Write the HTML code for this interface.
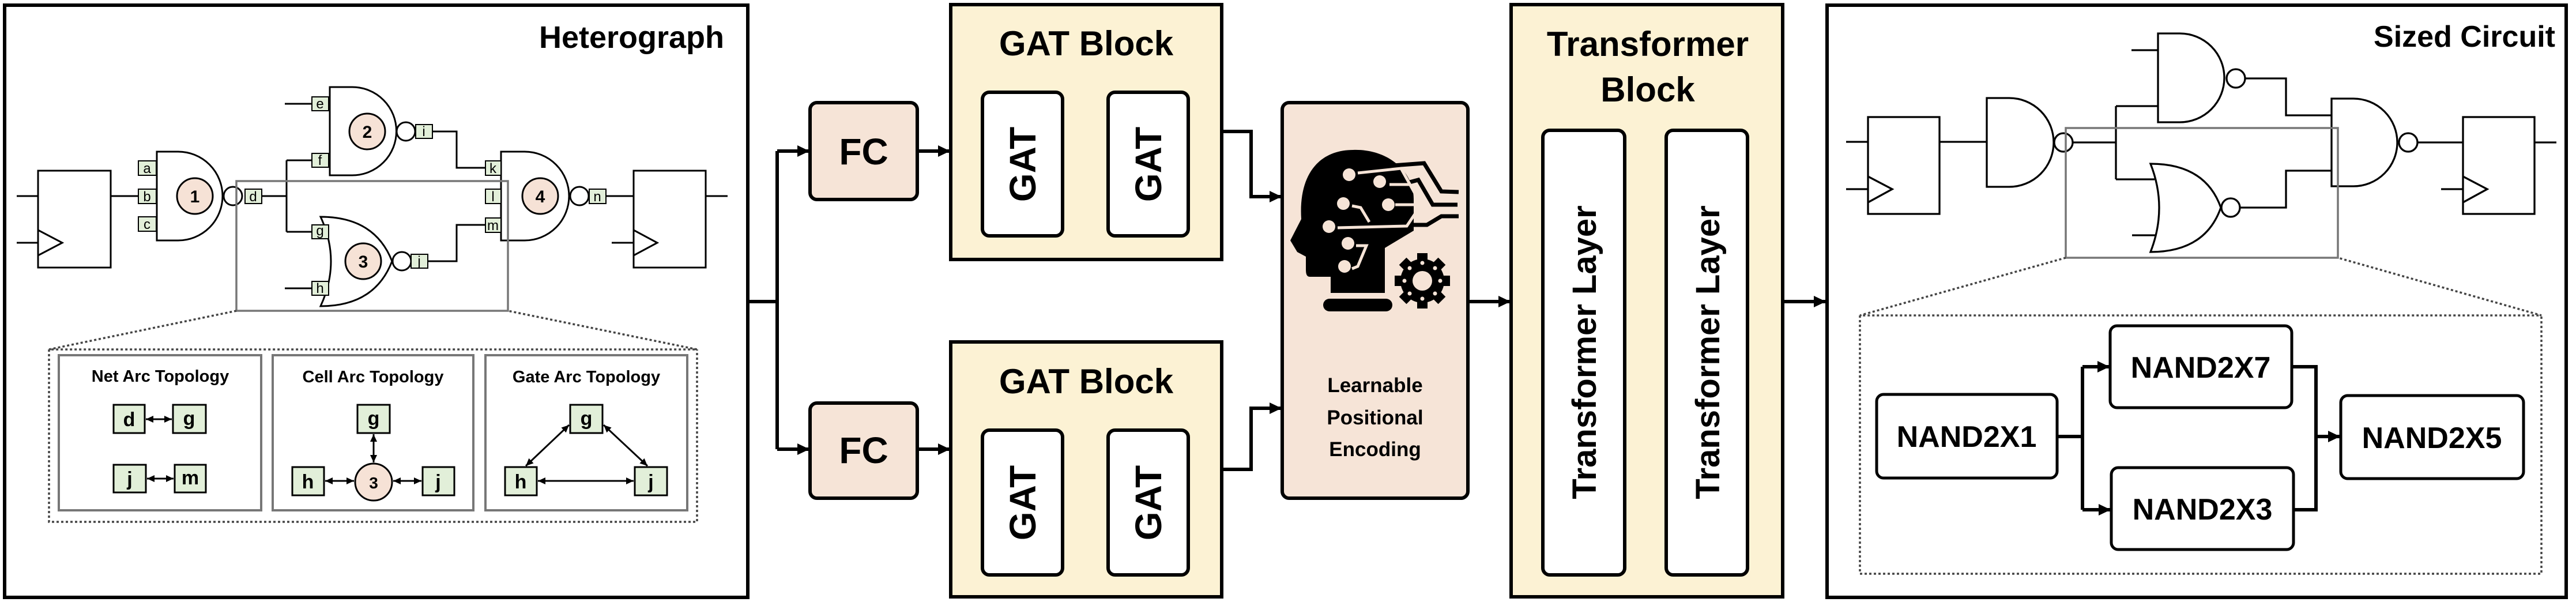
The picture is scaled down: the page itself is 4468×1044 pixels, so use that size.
<!DOCTYPE html>
<html><head><meta charset="utf-8"><style>
html,body{margin:0;padding:0;background:#fff;}
svg{display:block;}
text{font-family:"Liberation Sans",Arial,sans-serif;font-weight:bold;fill:#000;}
</style></head><body>
<svg width="4468" height="1044" viewBox="0 0 4468 1044" xmlns="http://www.w3.org/2000/svg">
<defs>
<marker id="ar" markerUnits="userSpaceOnUse" markerWidth="22" markerHeight="22" refX="20" refY="11" orient="auto"><path d="M0,1 L21,11 L0,21 Z" fill="#000"/></marker>
<marker id="sa" markerUnits="userSpaceOnUse" markerWidth="14" markerHeight="14" refX="13" refY="7" orient="auto-start-reverse"><path d="M0,1 L13,7 L0,13 Z" fill="#000"/></marker>
</defs>

<!-- ============ HETEROGRAPH ============ -->
<rect x="8" y="9" width="1289" height="1027" fill="#fff" stroke="#000" stroke-width="6"/>
<text x="1256" y="83" font-size="54" text-anchor="end">Heterograph</text>

<g fill="none" stroke="#000" stroke-width="3">
 <!-- FF1 -->
 <rect x="66" y="296" width="126" height="168" fill="#fff"/>
 <path d="M29,340 H66 M29,421 H66 M66,399 L108,421 L66,443"/>
 <path d="M192,340 H240"/>
 <!-- gate1 -->
 <path d="M272,263 H309 A77,77 0 0 1 309,417 H272 Z" fill="#fff"/>
 <circle cx="404" cy="340" r="16" fill="#fff"/>
 <!-- wires -->
 <path d="M454,340 H497 M497,278 V402 M497,278 H541 M497,402 H541"/>
 <path d="M494,180 H541 M494,500 H541"/>
 <!-- gate2 -->
 <path d="M572,151 H611 A76.5,76.5 0 0 1 611,304 H572 Z" fill="#fff"/>
 <circle cx="704" cy="228" r="16" fill="#fff"/>
 <path d="M750,228 H792 V291 H842"/>
 <!-- gate3 NOR -->
 <path d="M556,376 Q592,453 556,531 Q650,531 680,453 Q650,376 556,376 Z" fill="#fff"/>
 <circle cx="697" cy="453" r="16" fill="#fff"/>
 <path d="M742,453 H792 V390 H842"/>
 <!-- gate4 -->
 <path d="M869,263 H910 A77,77 0 0 1 910,417 H869 Z" fill="#fff"/>
 <circle cx="1005" cy="340" r="16" fill="#fff"/>
 <path d="M1051,340 H1099"/>
 <!-- FF2 -->
 <rect x="1099" y="296" width="125" height="168" fill="#fff"/>
 <path d="M1224,340 H1262 M1061,421 H1099 M1099,399 L1140,421 L1099,443"/>
</g>
<!-- pin boxes -->
<g font-size="24" text-anchor="middle" font-weight="normal">
 <g fill="#e2efd9" stroke="#000" stroke-width="2">
  <rect x="240" y="279" width="31" height="25"/><rect x="240" y="328" width="31" height="25"/><rect x="240" y="376" width="31" height="25"/>
  <rect x="425" y="328" width="29" height="25"/>
  <rect x="541" y="168" width="29" height="24"/><rect x="541" y="266" width="29" height="24"/>
  <rect x="721" y="216" width="29" height="24"/>
  <rect x="541" y="390" width="29" height="24"/><rect x="541" y="488" width="29" height="24"/>
  <rect x="713" y="441" width="29" height="24"/>
  <rect x="842" y="279" width="27" height="25"/><rect x="842" y="328" width="27" height="25"/><rect x="842" y="378" width="27" height="25"/>
  <rect x="1022" y="328" width="29" height="25"/>
 </g>
 <g style="font-weight:normal">
  <text x="255" y="300" style="font-weight:normal">a</text><text x="255" y="349" style="font-weight:normal">b</text><text x="255" y="397" style="font-weight:normal">c</text>
  <text x="439" y="349" style="font-weight:normal">d</text>
  <text x="555" y="188" style="font-weight:normal">e</text><text x="555" y="286" style="font-weight:normal">f</text>
  <text x="735" y="236" style="font-weight:normal">i</text>
  <text x="555" y="408" style="font-weight:normal">g</text><text x="555" y="508" style="font-weight:normal">h</text>
  <text x="727" y="461" style="font-weight:normal">j</text>
  <text x="855" y="300" style="font-weight:normal">k</text><text x="855" y="349" style="font-weight:normal">l</text><text x="855" y="399" style="font-weight:normal">m</text>
  <text x="1036" y="349" style="font-weight:normal">n</text>
 </g>
</g>
<!-- node circles -->
<g fill="#f6e2d6" stroke="#000" stroke-width="3">
 <circle cx="338" cy="340" r="31"/><circle cx="637" cy="228" r="31"/><circle cx="630" cy="453" r="31"/><circle cx="937" cy="340" r="31"/>
</g>
<g font-size="30" text-anchor="middle">
 <text x="338" y="351">1</text><text x="637" y="239">2</text><text x="630" y="464">3</text><text x="937" y="351">4</text>
</g>
<!-- highlight + dotted -->
<rect x="410" y="314" width="471" height="225" fill="none" stroke="#777" stroke-width="3.5"/>
<path d="M410,539 L85,606 H1209 L881,539 M85,606 V905 H1209 V606" fill="none" stroke="#444" stroke-width="3.5" stroke-dasharray="4,4"/>
<g fill="#fff" stroke="#777" stroke-width="4">
 <rect x="102" y="616" width="351" height="269"/><rect x="473" y="616" width="348" height="269"/><rect x="842" y="616" width="350" height="269"/>
</g>
<g font-size="29" text-anchor="middle">
 <text x="278" y="662">Net Arc Topology</text><text x="647" y="663">Cell Arc Topology</text><text x="1017" y="663">Gate Arc Topology</text>
</g>
<g fill="#e2efd9" stroke="#000" stroke-width="3">
 <rect x="197" y="702" width="54" height="49"/><rect x="300" y="702" width="57" height="49"/>
 <rect x="197" y="806" width="56" height="48"/><rect x="303" y="806" width="54" height="48"/>
 <rect x="620" y="702" width="56" height="49"/><rect x="507" y="810" width="55" height="49"/><rect x="733" y="810" width="55" height="49"/>
 <rect x="989" y="702" width="56" height="49"/><rect x="876" y="810" width="55" height="49"/><rect x="1101" y="810" width="56" height="49"/>
</g>
<circle cx="648" cy="836" r="32" fill="#f6e2d6" stroke="#000" stroke-width="3"/>
<g font-size="34" text-anchor="middle">
 <text x="224" y="739">d</text><text x="328" y="737">g</text><text x="225" y="842">j</text><text x="330" y="840">m</text>
 <text x="648" y="737">g</text><text x="534" y="847">h</text><text x="760" y="847">j</text><text x="648" y="847" font-size="28">3</text>
 <text x="1017" y="737">g</text><text x="903" y="847">h</text><text x="1129" y="847">j</text>
</g>
<g stroke="#000" stroke-width="3" fill="none" marker-start="url(#sa)" marker-end="url(#sa)">
 <path d="M253,727 H298"/><path d="M255,830 H301"/>
 <path d="M648,753 V802"/><path d="M564,834 H614"/><path d="M682,834 H731"/>
 <path d="M987,737 L912,808"/><path d="M1047,737 L1123,808"/><path d="M933,834 H1099"/>
</g>

<!-- ============ MIDDLE ============ -->
<g stroke="#000" stroke-width="6" fill="none">
 <path d="M1297,523 H1348 M1348,262 V779"/>
 <path d="M1348,262 H1403" marker-end="url(#ar)"/>
 <path d="M1348,779 H1403" marker-end="url(#ar)"/>
 <path d="M1591,262 H1647" marker-end="url(#ar)"/>
 <path d="M1591,779 H1647" marker-end="url(#ar)"/>
 <path d="M1843,285 H1920" marker-end="url(#ar)"/>
 <path d="M1843,872 H1920" marker-end="url(#ar)"/>
 <path d="M2119,228 H2170 V341 H2222" marker-end="url(#ar)"/>
 <path d="M2119,814 H2170 V708 H2222" marker-end="url(#ar)"/>
 <path d="M2546,523 H2619" marker-end="url(#ar)"/>
 <path d="M2818,611 H2888" marker-end="url(#ar)"/>
 <path d="M3092,523 H3166" marker-end="url(#ar)"/>
</g>
<g stroke="#000" stroke-width="6">
 <rect x="1405" y="178" width="186" height="168" rx="12" fill="#f6e4d7"/>
 <rect x="1405" y="699" width="186" height="165" rx="12" fill="#f6e4d7"/>
 <rect x="1649" y="8" width="470" height="442" fill="#fcf2d4"/>
 <rect x="1649" y="593" width="470" height="442" fill="#fcf2d4"/>
 <rect x="1704" y="160" width="139" height="249" rx="12" fill="#fff"/>
 <rect x="1922" y="160" width="139" height="249" rx="12" fill="#fff"/>
 <rect x="1704" y="746" width="139" height="251" rx="12" fill="#fff"/>
 <rect x="1922" y="746" width="139" height="251" rx="12" fill="#fff"/>
 <rect x="2224" y="178" width="322" height="686" rx="12" fill="#f6e4d7"/>
 <rect x="2621" y="8" width="471" height="1027" fill="#fcf2d4"/>
 <rect x="2676" y="226" width="142" height="771" rx="12" fill="#fff"/>
 <rect x="2890" y="226" width="141" height="771" rx="12" fill="#fff"/>
</g>
<g font-size="64" text-anchor="middle">
 <text x="1498" y="285">FC</text><text x="1498" y="803">FC</text>
 <text x="1884" y="96" font-size="60">GAT Block</text><text x="1884" y="682" font-size="60">GAT Block</text>
 <text x="2858" y="97" font-size="60">Transformer</text><text x="2858" y="176" font-size="60">Block</text>
</g>
<g font-size="64" text-anchor="middle">
 <text transform="translate(1796,285) rotate(-90)">GAT</text>
 <text transform="translate(2014,285) rotate(-90)">GAT</text>
 <text transform="translate(1796,872) rotate(-90)">GAT</text>
 <text transform="translate(2014,872) rotate(-90)">GAT</text>
 <text transform="translate(2768,611) rotate(-90)" font-size="58">Transformer Layer</text>
 <text transform="translate(2982,611) rotate(-90)" font-size="58">Transformer Layer</text>
</g>
<g font-size="35" text-anchor="middle">
 <text x="2385" y="680">Learnable</text><text x="2385" y="736">Positional</text><text x="2385" y="791">Encoding</text>
</g>
<!-- head icon -->
<g>
 <path d="M2308,508 L2308,480 L2272,480 C2265,480 2265,472 2265,465 L2265,445 L2250,437 L2238,417 L2257,380 C2252,300 2290,260 2347,260 C2405,258 2452,295 2452,345 L2452,400 L2402,430 L2402,508 Z" fill="#000"/>
 <g fill="#f6e4d7">
  <circle cx="2340" cy="303" r="11"/><circle cx="2393" cy="315" r="11"/><circle cx="2330" cy="353" r="11"/>
  <circle cx="2408" cy="355" r="11"/><circle cx="2305" cy="393" r="11"/><circle cx="2338" cy="422" r="11"/><circle cx="2332" cy="462" r="11"/>
 </g>
 <g fill="none" stroke="#000" stroke-width="7">
  <path d="M2353,300 L2377,290 L2470,283 L2500,332 L2530,333"/>
  <path d="M2430,320 L2460,312 L2485,355 L2528,355"/>
  <path d="M2450,390 L2475,390 L2500,375 L2530,375"/>
 </g>
 <g fill="none" stroke="#f6e4d7" stroke-width="5">
  <path d="M2355,300 L2430,292 L2465,355 L2440,392 L2320,395"/>
  <path d="M2410,320 L2445,320"/>
  <path d="M2345,357 L2360,360 L2375,385"/>
  <path d="M2420,355 L2460,355"/>
  <path d="M2352,426 L2370,426 L2355,462 L2345,466"/>
 </g>
 <rect x="2295" y="518" width="120" height="22" rx="11" fill="#000"/>
 <g transform="translate(2467,487)">
  <g fill="#000">
   <circle r="38"/>
   <rect x="-9" y="-48" width="18" height="96"/>
   <rect x="-9" y="-48" width="18" height="96" transform="rotate(45)"/>
   <rect x="-9" y="-48" width="18" height="96" transform="rotate(90)"/>
   <rect x="-9" y="-48" width="18" height="96" transform="rotate(135)"/>
  </g>
  <circle r="17" fill="#f6e4d7"/>
  <g fill="#f6e4d7">
   <circle cx="0" cy="-31" r="3.5"/><circle cx="0" cy="31" r="3.5"/><circle cx="-31" cy="0" r="3.5"/><circle cx="31" cy="0" r="3.5"/>
   <circle cx="22" cy="22" r="3.5"/><circle cx="-22" cy="22" r="3.5"/><circle cx="22" cy="-22" r="3.5"/><circle cx="-22" cy="-22" r="3.5"/>
  </g>
 </g>
</g>

<!-- ============ SIZED CIRCUIT ============ -->
<rect x="3169" y="9" width="1282" height="1027" fill="#fff" stroke="#000" stroke-width="6"/>
<text x="4432" y="81" font-size="52" text-anchor="end">Sized Circuit</text>
<g fill="none" stroke="#000" stroke-width="3.3">
 <rect x="3240" y="203" width="124" height="168" fill="#fff"/>
 <path d="M3202,246 H3240 M3202,328 H3240 M3240,306 L3282,328 L3240,351"/>
 <path d="M3364,246 H3446"/>
 <path d="M3446,170 H3485 A77,77 0 0 1 3485,324 H3446 Z" fill="#fff"/>
 <circle cx="3579" cy="247" r="16" fill="#fff"/>
 <path d="M3595,247 H3670 M3670,184 V311 M3670,184 H3743 M3670,311 H3737"/>
 <path d="M3697,87 H3743 M3698,408 H3738"/>
 <path d="M3743,58 H3781 A77,77 0 0 1 3781,212 H3743 Z" fill="#fff"/>
 <circle cx="3878" cy="136" r="16" fill="#fff"/>
 <path d="M3894,136 H3965 V200 H4044"/>
 <path d="M3730,284 Q3760,360 3730,437 Q3825,437 3852,360 Q3825,284 3730,284 Z" fill="#fff"/>
 <circle cx="3869" cy="360" r="16" fill="#fff"/>
 <path d="M3885,360 H3965 V296 H4044"/>
 <path d="M4044,171 H4082 A76,76 0 0 1 4082,323 H4044 Z" fill="#fff"/>
 <circle cx="4177" cy="247" r="16" fill="#fff"/>
 <path d="M4193,247 H4272"/>
 <rect x="4272" y="203" width="124" height="168" fill="#fff"/>
 <path d="M4396,247 H4434 M4234,328 H4272 M4272,306 L4314,328 L4272,351"/>
</g>
<rect x="3583" y="222" width="472" height="225" fill="none" stroke="#777" stroke-width="3.5"/>
<path d="M3583,447 L3226,547 H4408 L4055,447 M3226,547 V995 H4408 V547" fill="none" stroke="#444" stroke-width="3.5" stroke-dasharray="4,4"/>
<g stroke="#000" stroke-width="6" fill="none">
 <path d="M3568,757 H3612 M3612,636 V884"/>
 <path d="M3612,636 H3658" marker-end="url(#ar)"/>
 <path d="M3612,884 H3660" marker-end="url(#ar)"/>
 <path d="M3975,636 H4017 V884 H3978 M4017,757 H4058"/>
 <path d="M4017,757 H4058" marker-end="url(#ar)"/>
</g>
<g fill="#fff" stroke="#000" stroke-width="5">
 <rect x="3255" y="684" width="313" height="145" rx="12"/>
 <rect x="3660" y="565" width="315" height="142" rx="12"/>
 <rect x="3662" y="811" width="316" height="142" rx="12"/>
 <rect x="4060" y="686" width="317" height="144" rx="12"/>
</g>
<g font-size="52" text-anchor="middle">
 <text x="3411" y="775">NAND2X1</text>
 <text x="3817" y="655">NAND2X7</text>
 <text x="3820" y="901">NAND2X3</text>
 <text x="4218" y="777">NAND2X5</text>
</g>
</svg>
</body></html>
